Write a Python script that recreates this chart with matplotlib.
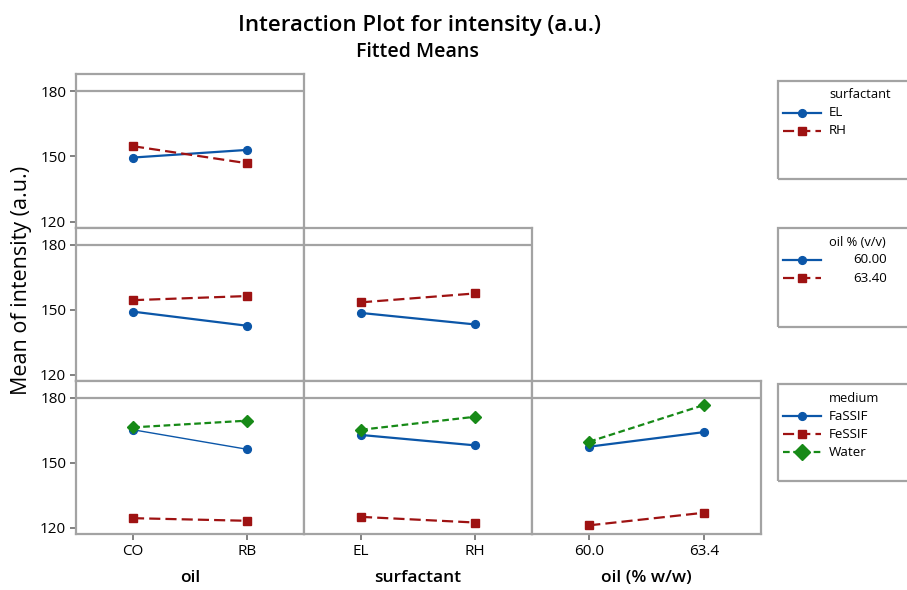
"""
Interaction plot (fitted means) for intensity, Minitab-style matrix layout.
"""
import numpy as np
import matplotlib
matplotlib.use("Agg")
import matplotlib.pyplot as plt
from matplotlib.lines import Line2D
from matplotlib.patches import Rectangle

plt.rcParams["font.family"] = ["Open Sans", "DejaVu Sans"]

# ----- data (fitted means) -----
oil_levels = ["CO", "RB"]
surf_levels = ["EL", "RH"]
oilpct_levels = [60.0, 63.4]
oilpct_ticklabels = ["60.0", "63.4"]

# row 1: x = oil, trace = surfactant
surf_EL_by_oil = [149.5, 153.0]
surf_RH_by_oil = [154.7, 146.9]

# row 2: trace = oil % (v/v)
pct60_by_oil = [149.2, 142.7]
pct63_by_oil = [154.5, 156.4]
pct60_by_surf = [148.6, 143.3]
pct63_by_surf = [153.5, 157.6]

# row 3: trace = medium
fassif_by_oil = [165.3, 156.3]
fessif_by_oil = [124.5, 123.3]
water_by_oil = [166.4, 169.5]
fassif_by_surf = [162.9, 158.1]
fessif_by_surf = [125.1, 122.5]
water_by_surf = [165.3, 171.3]
fassif_by_pct = [157.5, 164.2]
fessif_by_pct = [121.2, 127.0]
water_by_pct = [159.8, 176.7]

y_ticks = [120, 150, 180]
x_titles = ["oil", "surfactant", "oil (% w/w)"]

# ----- styles -----
W, H = 907, 590
BLUE = "#0b56a8"
RED = "#9e1212"
GREEN = "#178a17"
FRAME = "#a3a3a3"

STYLE = {
    "blue": dict(color=BLUE, ls="-", marker="o", ms=5.6, lw=1.6),
    "red": dict(color=RED, ls=(0, (5, 2.3)), marker="s", ms=5.4, lw=1.6),
    "green": dict(color=GREEN, ls=(0, (3, 1.6)), marker="D", ms=6.2, lw=1.6),
}


def fx(x):
    return x / W


def fy(y):
    return 1 - y / H


col_edges = [76, 304, 532, 761]
row_edges = [74, 228, 381, 534]
YLIM = (117.2, 187.8)

fig = plt.figure(figsize=(W / 100, H / 100), dpi=100)

panels = {
    (0, 0): ("cat", [("blue", surf_EL_by_oil), ("red", surf_RH_by_oil)]),
    (1, 0): ("cat", [("blue", pct60_by_oil), ("red", pct63_by_oil)]),
    (1, 1): ("cat", [("blue", pct60_by_surf), ("red", pct63_by_surf)]),
    (2, 0): ("cat", [("blue", fassif_by_oil), ("red", fessif_by_oil), ("green", water_by_oil)]),
    (2, 1): ("cat", [("blue", fassif_by_surf), ("red", fessif_by_surf), ("green", water_by_surf)]),
    (2, 2): ("num", [("blue", fassif_by_pct), ("red", fessif_by_pct), ("green", water_by_pct)]),
}
col_ticklabels = [oil_levels, surf_levels, oilpct_ticklabels]

for (r, c), (kind, series) in panels.items():
    x0, x1 = col_edges[c], col_edges[c + 1]
    y0, y1 = row_edges[r], row_edges[r + 1]
    ax = fig.add_axes([fx(x0), fy(y1), (x1 - x0) / W, (y1 - y0) / H])
    if kind == "cat":
        xs = np.arange(2)
        ax.set_xlim(-0.5, 1.5)
    else:
        xs = np.array(oilpct_levels)
        span = xs[1] - xs[0]
        ax.set_xlim(xs[0] - span / 2, xs[1] + span / 2)
    for key, vals in series:
        st = dict(STYLE[key])
        if (r, c) == (2, 0) and key == "blue":
            st["lw"] = 1.0  # thinner in the original
        ax.plot(xs, vals, **st)
    ax.set_ylim(*YLIM)
    ax.axhline(180, color=FRAME, lw=1.6, zorder=0)
    for s in ax.spines.values():
        s.set_color(FRAME)
        s.set_linewidth(1.6)
    ax.set_yticks(y_ticks)
    ax.set_xticks(xs)
    ax.tick_params(colors="#777777", length=4, width=1.3, labelsize=11,
                   labelcolor="black", pad=3)
    if c == 0:
        ax.set_yticklabels([str(t) for t in y_ticks])
    else:
        ax.tick_params(axis="y", left=False, labelleft=False)
    if r == 2:
        ax.set_xticklabels(col_ticklabels[c])
        fig.text(fx((x0 + x1) / 2), fy(578), x_titles[c], ha="center",
                 va="center", fontsize=12.5, fontweight="semibold")
    else:
        ax.tick_params(axis="x", bottom=False, labelbottom=False)

fig.text(fx(419), fy(25), "Interaction Plot for intensity (a.u.)",
         ha="center", va="center", fontsize=16, fontweight="semibold")
fig.text(fx(418), fy(52), "Fitted Means", ha="center", va="center",
         fontsize=14, fontweight="semibold")
fig.text(fx(22), fy(280), "Mean of intensity (a.u.)", rotation=90,
         ha="center", va="center", fontsize=15.5)

# ----- legends -----
legends = [
    (81, 179, "surfactant", [("blue", "EL"), ("red", "RH")], False),
    (228, 327, "oil % (v/v)", [("blue", "60.00"), ("red", "63.40")], True),
    (384, 481, "medium", [("blue", "FaSSIF"), ("red", "FeSSIF"), ("green", "Water")], False),
]
for top, bot, title, entries, right_align in legends:
    fig.add_artist(Rectangle((fx(778), fy(bot)), (915 - 778) / W, (bot - top) / H,
                             transform=fig.transFigure, fill=False,
                             edgecolor=FRAME, lw=1.6))
    fig.text(fx(829), fy(top + 14), title, ha="left", va="center", fontsize=9.3)
    for i, (key, lab) in enumerate(entries):
        yy = top + 32 + i * 18
        st = STYLE[key]
        fig.add_artist(Line2D([fx(783), fx(821)], [fy(yy), fy(yy)],
                              transform=fig.transFigure, color=st["color"],
                              ls=st["ls"], lw=st["lw"]))
        fig.add_artist(Line2D([fx(802)], [fy(yy)], transform=fig.transFigure,
                              color=st["color"], marker=st["marker"],
                              ms=st["ms"] + (1.5 if key == "green" else 0), ls="none"))
        if right_align:
            fig.text(fx(887), fy(yy), lab, ha="right", va="center", fontsize=9.6)
        else:
            fig.text(fx(829), fy(yy), lab, ha="left", va="center", fontsize=9.6)

fig.savefig("out.png", dpi=100)
